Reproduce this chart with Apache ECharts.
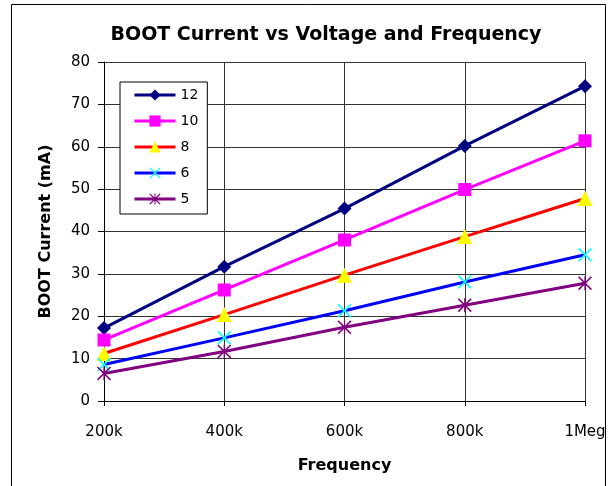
<!DOCTYPE html>
<html>
<head>
<meta charset="utf-8">
<script src="https://cdn.jsdelivr.net/npm/echarts@6/dist/echarts.min.js"></script>
<style>html,body{margin:0;padding:0;background:#fff;}#c{width:615px;height:486px;}</style>
</head>
<body>
<div id="c"></div>
<script>
var categories = ['200k', '400k', '600k', '800k', '1Meg'];
var seriesNames = ['12', '10', '8', '6', '5'];
var v12 = [17.2, 31.7, 45.4, 60.2, 74.3];
var v10 = [14.4, 26.2, 38.0, 49.9, 61.4];
var v8 = [11.2, 20.4, 29.7, 38.8, 47.8];
var v6 = [8.6, 14.9, 21.3, 28.1, 34.5];
var v5 = [6.5, 11.7, 17.4, 22.6, 27.8];
var yTicks = [0, 10, 20, 30, 40, 50, 60, 70, 80];

var FONT = 'DejaVu Sans';
var xPath = 'path://M0,1.6L1.6,0L10,8.4L18.4,0L20,1.6L11.6,10L20,18.4L18.4,20L10,11.6L1.6,20L0,18.4L8.4,10Z';
var starPath = 'path://M0,1.6L1.6,0L10,8.4L18.4,0L20,1.6L11.6,10L20,18.4L18.4,20L10,11.6L1.6,20L0,18.4L8.4,10Z M9.1,0L10.9,0L10.9,20L9.1,20Z';

function mk(name, data, lineColor, markColor, symbol, size) {
  return {
    name: name, type: 'line', data: data,
    symbol: symbol, symbolSize: size,
    lineStyle: { color: lineColor, width: 3 },
    itemStyle: { color: markColor, borderWidth: 0 },
    emphasis: { disabled: true },
    animation: false
  };
}

var chart = echarts.init(document.getElementById('c'), null, { renderer: 'canvas' });
chart.setOption({
  backgroundColor: '#ffffff',
  animation: false,
  title: {
    text: 'BOOT Current vs Voltage and Frequency',
    left: 321, top: 21, textAlign: 'center',
    textStyle: { fontFamily: FONT, fontSize: 19, fontWeight: 'bold', color: '#000' }
  },
  graphic: [{
    type: 'rect', silent: true,
    shape: { x: 11.5, y: 4.5, width: 594, height: 500 },
    style: { fill: 'none', stroke: '#000', lineWidth: 1 }
  }],
  legend: {
    orient: 'vertical', left: 120, top: 82,
    data: seriesNames,
    itemWidth: 41, itemHeight: 14, itemGap: 12,
    padding: [6, 9, 8, 13],
    borderColor: '#000', borderWidth: 1,
    backgroundColor: '#fff',
    lineStyle: { width: 3 },
    textStyle: { fontFamily: FONT, fontSize: 14, color: '#000' }
  },
  grid: { left: 104, right: 30, top: 62, bottom: 85 },
  xAxis: {
    type: 'category', data: categories, boundaryGap: false,
    name: 'Frequency', nameLocation: 'middle', nameGap: 57,
    nameTextStyle: { fontFamily: FONT, fontSize: 16, fontWeight: 'bold', color: '#000' },
    axisLine: { lineStyle: { color: '#000', width: 1 } },
    axisTick: { show: true, length: 5, lineStyle: { color: '#000' } },
    axisLabel: { fontFamily: FONT, fontSize: 15, color: '#000', margin: 24 },
    splitLine: { show: true, lineStyle: { color: '#333', width: 1 } }
  },
  yAxis: {
    type: 'value', min: yTicks[0], max: yTicks[yTicks.length - 1], interval: 10,
    name: 'BOOT Current (mA)', nameLocation: 'middle', nameGap: 50,
    nameTextStyle: { fontFamily: FONT, fontSize: 16, fontWeight: 'bold', color: '#000' },
    axisLine: { show: true, lineStyle: { color: '#000', width: 1 } },
    axisTick: { show: true, length: 6, lineStyle: { color: '#000' } },
    axisLabel: { fontFamily: FONT, fontSize: 15, color: '#000', margin: 14 },
    splitLine: { show: true, lineStyle: { color: '#333', width: 1 } }
  },
  series: [
    mk('12', v12, '#000080', '#000080', 'diamond', 14),
    mk('10', v10, '#FF00FF', '#FF00FF', 'rect', 13),
    mk('8', v8, '#FF0000', '#FFFF00', 'triangle', 15),
    mk('6', v6, '#0000FF', '#00FFFF', xPath, 14),
    mk('5', v5, '#800080', '#800080', starPath, 14)
  ]
});
</script>
</body>
</html>
